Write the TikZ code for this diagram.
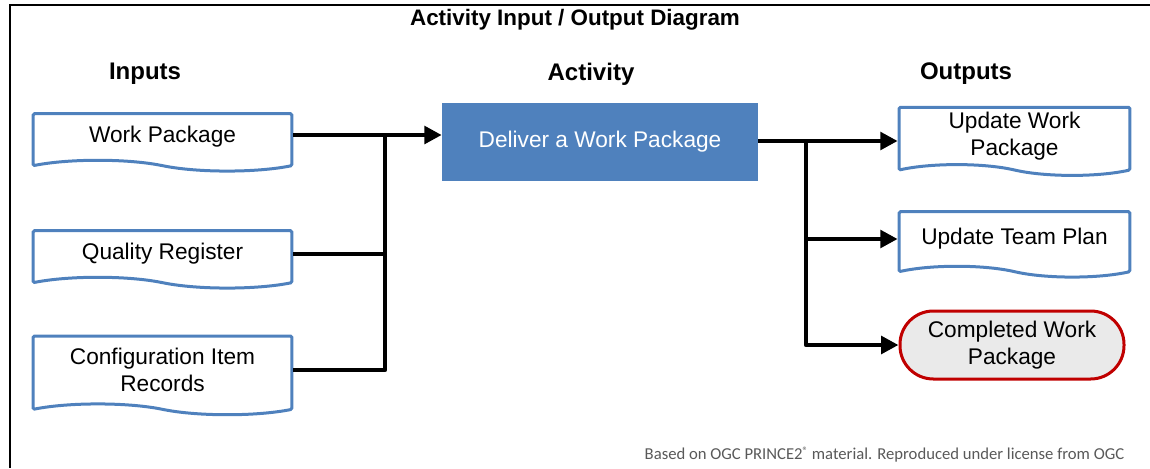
\documentclass[tikz,border=0pt]{standalone}
\usepackage{fontspec}
\setmainfont{Liberation Sans}
\newfontfamily\footfont{Carlito}
\usetikzlibrary{arrows.meta,positioning,shapes.symbols}
\definecolor{docblue}{HTML}{4F81BD}
\definecolor{endred}{HTML}{C00000}
\definecolor{endfill}{HTML}{EAEAEA}
\definecolor{footgray}{HTML}{595959}

\begin{document}
\begin{tikzpicture}[x=0.75pt, y=-0.75pt]
\useasboundingbox (0,0) rectangle (1150,468);
\tikzstyle{body}=[font=\fontsize{17}{20.3}\selectfont, align=center]
\tikzstyle{head}=[font=\fontsize{18}{21}\selectfont\bfseries]
\tikzstyle{doc}=[body, draw=docblue, line width=2.25pt, tape, tape bend top=none,
  tape bend bottom=out and in, tape bend height=8pt, rounded corners=1pt,
  minimum width=194pt, inner sep=2pt]
\tikzstyle{link}=[line width=3.4pt, line join=round]
\tikzstyle{larrow}=[link, -{Triangle[length=13pt, width=13pt]}]
\draw[line width=1.5pt] (1150,5) -- (10,5) -- (10,468);
\node[font=\fontsize{16.8}{20}\selectfont\bfseries] (T) at (575,20) {Activity Input / Output Diagram};
\node[head] (HI) at (145,74) {Inputs};
\node[head] (HA) at (591,74) {Activity};
\node[head] (HO) at (966,74) {Outputs};
\node[doc, minimum height=43pt] (WP) at (162.5,137) {Work Package};
\node[doc, minimum height=43pt] (QR) at (162.5,254) {Quality Register};
\node[doc, minimum height=59pt] (CI) at (162.5,370) {Configuration Item\\Records};
\node[body, fill=docblue, text=white, minimum width=237pt, minimum height=58.5pt,
  inner sep=0pt] (ACT) at (600,142) {Deliver a Work Package};
\node[doc, minimum width=173pt, minimum height=51pt] (UWP) at (1014.5,136) {Update Work\\Package};
\node[doc, minimum width=173pt, minimum height=49pt] (UTP) at (1014.5,239) {Update Team Plan};
\node[body, draw=endred, fill=endfill, line width=2.25pt, rounded corners=25pt,
  minimum width=168pt, minimum height=51pt, inner sep=0pt] (CWP) at (1012,345)
  {Completed Work\\Package};
\coordinate (inj) at (385,135);
\coordinate (outj) at (806,141);
\draw[larrow] (WP.east |- inj) -- (ACT.west |- inj);
\draw[link] (QR.east) -- (QR.east -| inj);
\draw[link] (CI.east) -| (inj);
\draw[larrow] (ACT.east |- outj) -- (UWP.west |- outj);
\draw[larrow] (UTP.west -| outj) -- (UTP.west);
\draw[larrow] (outj) |- (CWP.west);
\node[anchor=east, text=footgray, font=\footfont\fontsize{12.5}{15}\selectfont] (F) at (1129,455)
  {Based on OGC PRINCE2\raisebox{0.6ex}{\fontsize{8}{8}\selectfont ®} material. Reproduced under license from OGC};
\end{tikzpicture}
\end{document}
